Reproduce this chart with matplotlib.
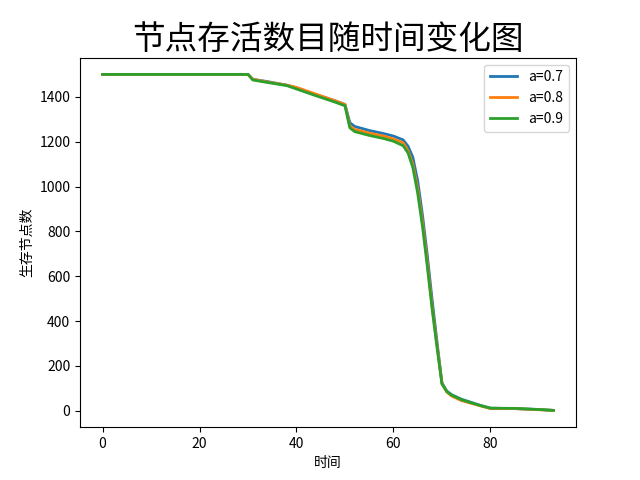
import matplotlib
matplotlib.use('Agg')
import matplotlib.pyplot as plt

plt.rcParams['font.family'] = ['Noto Sans CJK SC', 'DejaVu Sans']
plt.rcParams['axes.unicode_minus'] = False

# time points (key samples)
t = [0, 30, 31, 34, 38, 40, 44, 48, 50, 51, 52, 55, 58, 60, 62, 63, 64, 65, 66, 67, 68, 69, 70, 71, 72, 74, 76, 78, 80, 85, 90, 93]

alive_07 = [1500, 1500, 1478, 1468, 1452, 1440, 1410, 1382, 1366, 1285, 1268, 1250, 1236, 1225, 1208, 1180, 1130, 1025, 870, 690, 490, 305, 125, 88, 72, 52, 38, 24, 12, 10, 6, 2]
alive_08 = [1500, 1500, 1478, 1466, 1452, 1442, 1412, 1382, 1366, 1270, 1255, 1238, 1225, 1212, 1195, 1160, 1100, 990, 840, 660, 460, 290, 122, 84, 66, 46, 34, 22, 10, 10, 5, 2]
alive_09 = [1500, 1500, 1475, 1464, 1450, 1435, 1405, 1376, 1360, 1262, 1245, 1228, 1214, 1202, 1182, 1150, 1085, 970, 820, 640, 450, 280, 120, 86, 70, 50, 36, 23, 12, 11, 6, 2]

labels = ['a=0.7', 'a=0.8', 'a=0.9']

fig, ax = plt.subplots(figsize=(6.4, 4.8), dpi=100)
for y, lab in zip([alive_07, alive_08, alive_09], labels):
    ax.plot(t, y, linewidth=2, label=lab)

ax.set_title('节点存活数目随时间变化图', fontsize=23.5)
ax.set_xlabel('时间')
ax.set_ylabel('生存节点数')
ax.legend(loc='upper right')

fig.savefig('out.png')
